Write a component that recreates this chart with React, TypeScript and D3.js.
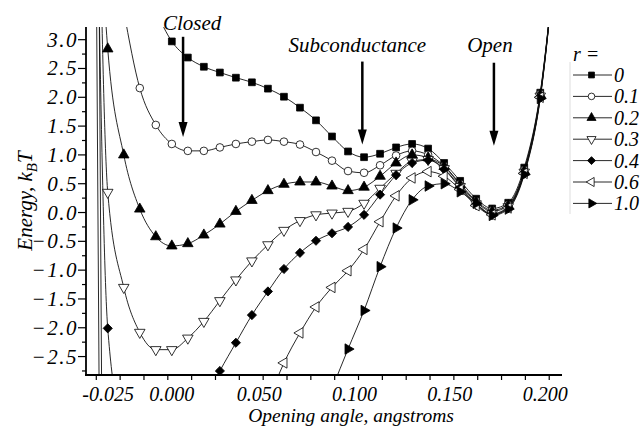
import React from "react";
import * as d3 from "d3";

// Opening-angle grid shared by all energy profiles (angstroms)
const angles = [
  -0.0399, -0.0315, -0.0231, -0.0147, -0.0063, 0.0021, 0.0105, 0.0189, 0.0273, 0.0357,
  0.0441, 0.0525, 0.0609, 0.0693, 0.0777, 0.0861, 0.0945, 0.1029, 0.1113, 0.1197,
  0.1281, 0.1365, 0.1449, 0.1533, 0.1617, 0.1701, 0.1785, 0.1869, 0.1953, 0.2037,
];

// Energy profiles (k_B T) for each value of r; null where the curve is not traced
const energyR00 = [null, null, null, null, 3.5, 2.97, 2.69, 2.53, 2.43, 2.34, 2.26, 2.15, 2.01, 1.82, 1.6, 1.32, 1.06, 0.96, 1.02, 1.13, 1.19, 1.11, 0.86, 0.55, 0.24, 0.07, 0.17, 0.78, 2.08, 4.6];
const energyR01 = [null, null, 3.5, 2.16, 1.52, 1.19, 1.07, 1.07, 1.13, 1.19, 1.23, 1.26, 1.23, 1.18, 1.05, 0.9, 0.72, 0.69, 0.82, 0.99, 1.07, 1.0, 0.81, 0.5, 0.2, 0.04, 0.14, 0.74, 2.06, 4.6];
const energyR02 = [8, 2.84, 1.0, 0.06, -0.42, -0.58, -0.54, -0.39, -0.2, 0.02, 0.21, 0.38, 0.49, 0.53, 0.53, 0.46, 0.38, 0.44, 0.63, 0.86, 1.0, 0.95, 0.8, 0.48, 0.18, 0.02, 0.12, 0.72, 2.04, 4.6];
const energyR03 = [14, 0.35, -1.3, -2.08, -2.38, -2.38, -2.18, -1.89, -1.53, -1.17, -0.84, -0.56, -0.31, -0.14, -0.04, -0.01, 0.02, 0.16, 0.42, 0.68, 0.89, 0.92, 0.76, 0.45, 0.15, -0.02, 0.1, 0.7, 2.02, 4.6];
const energyR04 = [11.9, -2.01, -3.8, null, null, null, null, -3.3, -2.75, -2.26, -1.78, -1.37, -0.98, -0.7, -0.49, -0.36, -0.25, -0.04, 0.31, 0.65, 0.86, 0.91, 0.75, 0.43, 0.14, -0.03, 0.09, 0.69, 2.01, 4.6];
const energyR06 = [24.1, -19.8, null, null, null, null, null, null, null, null, null, -3.29, -2.61, -2.09, -1.64, -1.3, -1.01, -0.64, -0.16, 0.29, 0.6, 0.71, 0.63, 0.4, 0.12, -0.04, 0.08, 0.68, 2.0, 4.6];
const energyR10 = [16.3, -25.6, null, null, null, null, null, null, null, null, null, null, null, null, null, -3.06, -2.37, -1.7, -0.94, -0.27, 0.22, 0.46, 0.5, 0.36, 0.16, -0.05, 0.06, 0.66, 1.98, 4.6];

const rLabels = ["0", "0.1", "0.2", "0.3", "0.4", "0.6", "1.0"];
const markerKinds = ["square", "circle", "up", "down", "diamond", "left", "right"];
const markerFilled = [true, false, true, false, true, false, true];
const energies = [energyR00, energyR01, energyR02, energyR03, energyR04, energyR06, energyR10];

const xTickLabels = [-0.025, 0.0, 0.05, 0.1, 0.15, 0.2];
const yTickLabels = [3.0, 2.5, 2.0, 1.5, 1.0, 0.5, 0.0, -0.5, -1.0, -1.5, -2.0, -2.5];

// Arrow annotations: label, angle, arrow top and tip energies
const annotationLabels = ["Closed", "Subconductance", "Open"];
const annotationAngles = [0.008, 0.102, 0.171];
const annotationTops = [3.05, 2.62, 2.6];
const annotationTips = [1.31, 1.18, 1.16];

const W = 644;
const H = 426;
const left = 86;
const right = 562;
const top = 27;
const bottom = 375;

const serif = { fontFamily: "Liberation Serif", fontStyle: "italic" as const };

const x = d3.scaleLinear().domain([-0.0429, 0.2067]).range([left, right]);
const y = d3.scaleLinear().domain([-2.82, 3.22]).range([bottom, top]);

function markerPath(kind: string, scale = 1): { d: string; rot: number } {
  const tri = d3.symbol().type(d3.symbolTriangle).size(48 * scale)() as string;
  switch (kind) {
    case "square":
      return { d: d3.symbol().type(d3.symbolSquare).size(46 * scale)() as string, rot: 0 };
    case "circle":
      return { d: d3.symbol().type(d3.symbolCircle).size(46 * scale)() as string, rot: 0 };
    case "diamond":
      return { d: d3.symbol().type(d3.symbolSquare).size(42 * scale)() as string, rot: 45 };
    case "up":
      return { d: tri, rot: 0 };
    case "down":
      return { d: tri, rot: 180 };
    case "left":
      return { d: tri, rot: -90 };
    default:
      return { d: tri, rot: 90 };
  }
}

function fmtX(v: number) {
  const s = Math.abs(v).toFixed(3);
  return v < 0 ? "-" + s : s;
}
function fmtY(v: number) {
  const s = Math.abs(v).toFixed(1);
  return v < 0 ? "\u2212" + s : s;
}
// italic labels sit a little left of their ticks; the zero label a little right
function xLabelShift(v: number) {
  if (v < 0) return -12;
  if (v === 0) return 4;
  return -4;
}

export default function App() {
  const line = d3
    .line<number | null>()
    .defined((d) => d !== null)
    .x((_, i) => x(angles[i]))
    .y((d) => y(d as number))
    .curve(d3.curveMonotoneX);

  const xMinor = d3.range(-0.0375, 0.2001, 0.0125);
  const yMinor = d3.range(-2.75, 3.01, 0.25);
  const [yLo, yHi] = y.domain();

  const legendX = 573;
  const legendY0 = 75;
  const legendStep = 21.4;
  const headLen = 15;
  const headHalf = 4.5;

  return (
    <div style={{ position: "fixed", left: 0, top: 0 }}>
      <svg width={W} height={H} viewBox={`0 0 ${W} ${H}`} style={{ display: "block", background: "#fff" }}>
        <defs>
          <clipPath id="plot-clip">
            <rect x={left} y={top} width={right - left} height={bottom - top} />
          </clipPath>
        </defs>

        {/* energy curves */}
        <g clipPath="url(#plot-clip)" fill="none" stroke="#111" strokeWidth={0.9}>
          {energies.map((e, s) => (
            <path key={s} d={line(e) || ""} />
          ))}
        </g>

        {/* markers */}
        <g>
          {energies.map((e, s) => {
            const m = markerPath(markerKinds[s]);
            return e.map((v, i) =>
              v === null || v < yLo || v > yHi ? null : (
                <path
                  key={`${s}-${i}`}
                  d={m.d}
                  transform={`translate(${x(angles[i])},${y(v)}) rotate(${m.rot})`}
                  fill={markerFilled[s] ? "#000" : "#fff"}
                  stroke="#000"
                  strokeWidth={0.8}
                />
              )
            );
          })}
        </g>

        {/* axes */}
        <g stroke="#000" fill="none">
          <line x1={left} x2={left} y1={top} y2={bottom + 1} strokeWidth={1.8} />
          <line x1={left - 1} x2={right} y1={bottom} y2={bottom} strokeWidth={1.8} />
          {xMinor.map((v) => (
            <line key={`xt${v}`} x1={x(v)} x2={x(v)} y1={bottom} y2={bottom + 5} strokeWidth={1.2} />
          ))}
          {yMinor.map((v) => {
            const major = Math.abs(v * 2 - Math.round(v * 2)) < 1e-6;
            return (
              <line key={`yt${v}`} x1={left - (major ? 8 : 4)} x2={left} y1={y(v)} y2={y(v)} strokeWidth={1.2} />
            );
          })}
        </g>

        <g fill="#000">
          {xTickLabels.map((v) => (
            <text key={`xl${v}`} x={x(v) + xLabelShift(v)} y={401} fontSize={20} textAnchor="middle" style={serif}>
              {fmtX(v)}
            </text>
          ))}
          {yTickLabels.map((v) => (
            <text key={`yl${v}`} x={78} y={y(v) + 7} fontSize={21} textAnchor="end" letterSpacing={1.5} style={serif}>
              {fmtY(v)}
            </text>
          ))}
          <text x={351} y={422} fontSize={19.5} textAnchor="middle" style={serif}>
            Opening angle, angstroms
          </text>
          <text transform="translate(32,201) rotate(-90)" fontSize={21} textAnchor="middle" style={serif}>
            Energy, k
            <tspan fontSize={15} dy={5}>B</tspan>
            <tspan dy={-5}>T</tspan>
          </text>
        </g>

        {/* annotations */}
        <g fontSize={21}>
          {annotationLabels.map((lab, i) => {
            const ax = x(annotationAngles[i]);
            const y1 = y(annotationTops[i]);
            const tip = y(annotationTips[i]);
            return (
              <g key={lab}>
                <text x={ax + (i === 0 ? 9 : i === 1 ? -5 : -4)} y={i === 0 ? 30 : 52} textAnchor="middle" style={serif}>
                  {lab}
                </text>
                <line x1={ax} x2={ax} y1={y1} y2={tip - headLen + 2} stroke="#000" strokeWidth={2.5} />
                <path
                  d={`M${ax - headHalf},${tip - headLen} L${ax + headHalf},${tip - headLen} L${ax},${tip} Z`}
                  fill="#000"
                />
              </g>
            );
          })}
        </g>

        {/* legend */}
        <g fontSize={20}>
          <line x1={570} x2={570} y1={62} y2={214} stroke="#ddd" strokeWidth={1} />
          <text x={legendX} y={61} style={serif}>r =</text>
          {rLabels.map((lab, s) => {
            const cy = legendY0 + s * legendStep;
            const m = markerPath(markerKinds[s], 0.75);
            return (
              <g key={lab}>
                <line x1={legendX} x2={612} y1={cy} y2={cy} stroke="#111" strokeWidth={0.9} />
                <path
                  d={m.d}
                  transform={`translate(${591.5},${cy}) rotate(${m.rot})`}
                  fill={markerFilled[s] ? "#000" : "#fff"}
                  stroke="#000"
                  strokeWidth={0.8}
                />
                <text x={614} y={cy + 7} style={serif}>{lab}</text>
              </g>
            );
          })}
        </g>
      </svg>
    </div>
  );
}
